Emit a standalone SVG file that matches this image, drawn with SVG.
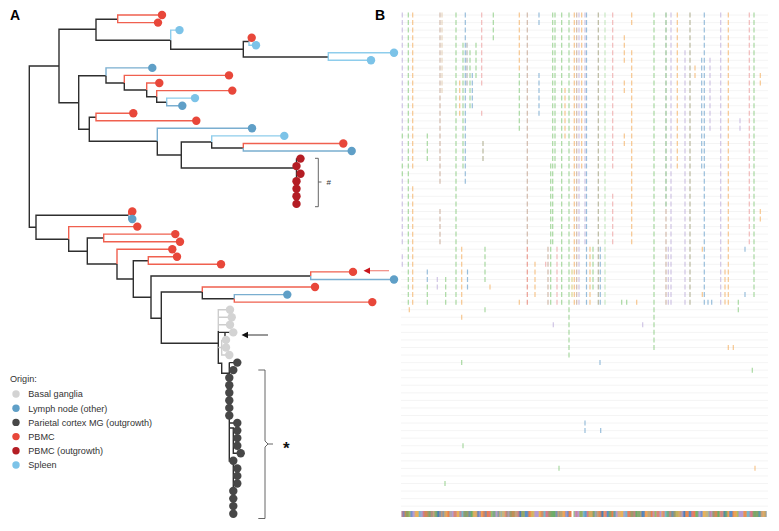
<svg xmlns="http://www.w3.org/2000/svg" width="779" height="531" viewBox="0 0 779 531">
<defs>
<style>
text{font-family:"Liberation Sans",Arial,sans-serif;fill:#333}
.k,.r,.b,.s,.g{fill:none;stroke-width:1.4}
.k{stroke:#2e2e2e}.r{stroke:#f0604f}.b{stroke:#7aaed0}.s{stroke:#8ecdec}.g{stroke:#cdcdcd}
.dr{fill:#e8473a}.db{fill:#5f9fc7}.ds{fill:#7cc3e8}.dd{fill:#b41d24}.dp{fill:#474747}.dg{fill:#d3d3d3}
.col path{fill:none;stroke-width:1.2;stroke-dasharray:5 2.556}
.lab{font-size:14px;font-weight:bold;fill:#000}
.leg{font-size:9.1px}
</style>
<pattern id="pa" patternUnits="userSpaceOnUse" x="401.5" y="511" width="41" height="6">
<rect x="0" width="3" height="6" fill="#5a8fc8"/><rect x="3" width="4" height="6" fill="#e8804f"/><rect x="7" width="2" height="6" fill="#92c06b"/><rect x="9" width="5" height="6" fill="#b59bd2"/><rect x="14" width="3" height="6" fill="#e9b25a"/><rect x="17" width="4" height="6" fill="#78b7cb"/><rect x="21" width="2" height="6" fill="#d9788a"/><rect x="23" width="5" height="6" fill="#9c9a6c"/><rect x="28" width="3" height="6" fill="#6aae6a"/><rect x="31" width="4" height="6" fill="#c89f7d"/><rect x="35" width="3" height="6" fill="#4c7fb6"/><rect x="38" width="3" height="6" fill="#f09e5a"/>
</pattern>
<pattern id="pb" patternUnits="userSpaceOnUse" x="401.5" y="511" width="29" height="6">
<rect x="0" width="2" height="6" fill="#d9788a"/><rect x="4" width="3" height="6" fill="#6aae6a"/><rect x="9" width="2" height="6" fill="#5a8fc8"/><rect x="13" width="4" height="6" fill="#e9b25a"/><rect x="19" width="2" height="6" fill="#b59bd2"/><rect x="23" width="3" height="6" fill="#e8804f"/>
</pattern>
</defs>
<rect width="779" height="531" fill="#fff"/>
<text class="lab" x="10" y="19.5">A</text>
<text class="lab" x="375" y="19.5">B</text>

<g id="connectors">
<path class="k" d="M59,66 H29.3 V227.3 H36"/>
<path class="k" d="M96,29.3 H59 V102.7 H78.7"/>
<path class="k" d="M117.7,19.3 H96 V40.3 H170.7"/>
<path class="r" d="M162,15 H117.7 V22.6 H158"/>
<path class="s" d="M179.5,30.1 H170.7 V40.3"/>
<path class="k" d="M170.7,40.3 V49.3 H243.3"/>
<path class="k" d="M249,41.5 H243.3 V57 H328.3"/>
<path class="r" d="M251.7,37.7 H249 V41.5"/>
<path class="s" d="M249,41.5 V45.2 H256"/>
<path class="s" d="M394,52.8 H328.3 V60.3 H371"/>
<path class="k" d="M106,75.7 H78.7 V129.3 H89.3"/>
<path class="b" d="M152.3,67.9 H106 V75.7"/>
<path class="k" d="M106,75.7 V83 H124.3"/>
<path class="r" d="M229,75.4 H124.3 V83"/>
<path class="k" d="M124.3,83 V90 H146.7"/>
<path class="r" d="M159.3,83 H146.7 V90"/>
<path class="k" d="M146.7,90 V96.7 H156.7"/>
<path class="r" d="M232.3,90.6 H156.7 V96.7"/>
<path class="k" d="M156.7,96.7 V102.3 H166.7"/>
<path class="s" d="M195,98.1 H166.7 V102.3"/>
<path class="b" d="M166.7,102.3 V105.7 H182.3"/>
<path class="k" d="M96,117.3 H89.3 V141.3 H157.3"/>
<path class="r" d="M133.3,113.2 H96 V120.8 H196.3"/>
<path class="b" d="M252,128.3 H157.3 V141.3"/>
<path class="k" d="M157.3,141.3 V155 H181.3"/>
<path class="k" d="M211.7,142 H181.3 V168 H296.5"/>
<path class="s" d="M284.3,135.9 H211.7 V142"/>
<path class="k" d="M211.7,142 V148 H243.3"/>
<path class="r" d="M343.3,143.5 H243.3 V148"/>
<path class="b" d="M243.3,148 V151 H351.7"/>
<path class="k" d="M296.5,158.6 V203.9 M296.5,158.6 H300.5 M296.5,173.7 H300.5"/>
<path class="k" d="M128.7,215.3 H36 V239.3 H68.7"/>
<path class="r" d="M132.3,211.5 H128.7 V215.3"/>
<path class="b" d="M128.7,215.3 V219 H132.3"/>
<path class="r" d="M137.3,226.6 H68.7 V239.3"/>
<path class="k" d="M68.7,239.3 V251.3 H87.3"/>
<path class="k" d="M103.7,238 H87.3 V264 H117"/>
<path class="r" d="M175.3,234.1 H103.7 V241.7 H180"/>
<path class="r" d="M172.3,249.2 H117 V264"/>
<path class="k" d="M117,264 V279 H133.3"/>
<path class="k" d="M148.3,260.7 H133.3 V297.3 H151"/>
<path class="r" d="M177,256.8 H148.3 V264.3 H221"/>
<path class="k" d="M310.7,276 H151 V318.3 H161.3"/>
<path class="r" d="M353,271.9 H310.7 V276"/>
<path class="b" d="M310.7,276 V279.5 H394"/>
<path class="k" d="M202.3,292 H161.3 V343.3 H218.3"/>
<path class="r" d="M315,287 H202.3 V292"/>
<path class="k" d="M202.3,292 V298.7 H234.3"/>
<path class="b" d="M287.3,294.6 H234.3 V298.7"/>
<path class="r" d="M234.3,298.7 V302.1 H372.3"/>
<path class="g" d="M230,309.7 H218.3 V331 M218.3,317.2 H231.7 M218.3,324.8 H230"/>
<path class="k" d="M218.3,331 V363.3 H221.7 V373.3 H229.3"/>
<path class="k" d="M218.3,332.4 H225 V337 M225,332.4 H233.3"/>
<path class="g" d="M221.7,339.9 H226 M221.7,339.9 V355 H229.3 M218.3,347.5 H226"/>
<path class="k" d="M229.3,362.6 H237.3 M229.3,362.6 V461 H233.3 V513.7 M229.3,423 H237.3 M229.3,428 H233.3 V453.2 H240.7"/>
<path d="M367,270.7 H389" stroke="#f28b82" stroke-width="1.2" fill="none"/>
<polygon points="363.5,270.7 370,267.5 370,273.9" fill="#c9161d"/>
<path d="M246,335 H268" stroke="#333" stroke-width="1" fill="none"/>
<polygon points="241.5,335 248,331.8 248,338.2" fill="#111"/>
<path d="M315,158.3 H318.3 V206.7 H315 M318.3,182 H321.5" stroke="#555" stroke-width="0.9" fill="none"/>
<path d="M258.3,370 H265 V441 L268,444 L265,447 V518.5 H258.3 M268,444 H273" stroke="#555" stroke-width="0.9" fill="none"/>
</g>
<text x="326.5" y="185" style="font-size:8px">#</text>
<text x="283" y="454" style="font-size:17px;font-weight:bold;fill:#111">*</text>

<g id="tips">
<circle class="dr" cx="162" cy="15" r="4.2"/><circle class="dr" cx="158" cy="22.6" r="4.2"/><circle class="ds" cx="179.5" cy="30.1" r="4.2"/><circle class="dr" cx="251.7" cy="37.7" r="4.2"/><circle class="ds" cx="256" cy="45.2" r="4.2"/><circle class="ds" cx="394" cy="52.8" r="4.2"/><circle class="ds" cx="371" cy="60.3" r="4.2"/><circle class="db" cx="152.3" cy="67.9" r="4.2"/><circle class="dr" cx="229" cy="75.4" r="4.2"/><circle class="dr" cx="159.3" cy="83" r="4.2"/><circle class="dr" cx="232.3" cy="90.6" r="4.2"/><circle class="ds" cx="195" cy="98.1" r="4.2"/><circle class="db" cx="182.3" cy="105.7" r="4.2"/><circle class="dr" cx="133.3" cy="113.2" r="4.2"/><circle class="dr" cx="196.3" cy="120.8" r="4.2"/><circle class="db" cx="252" cy="128.3" r="4.2"/><circle class="ds" cx="284.3" cy="135.9" r="4.2"/><circle class="dr" cx="343.3" cy="143.5" r="4.2"/><circle class="db" cx="351.7" cy="151" r="4.2"/>
<circle class="dd" cx="300.5" cy="158.6" r="4.2"/><circle class="dd" cx="296.5" cy="166.1" r="4.2"/><circle class="dd" cx="300.5" cy="173.7" r="4.2"/><circle class="dd" cx="296.5" cy="181.2" r="4.2"/><circle class="dd" cx="296.5" cy="188.8" r="4.2"/><circle class="dd" cx="296.5" cy="196.3" r="4.2"/><circle class="dd" cx="296.5" cy="203.9" r="4.2"/>
<circle class="dr" cx="132.3" cy="211.5" r="4.2"/><circle class="db" cx="132.3" cy="219" r="4.2"/><circle class="dr" cx="137.3" cy="226.6" r="4.2"/><circle class="dr" cx="175.3" cy="234.1" r="4.2"/><circle class="dr" cx="180" cy="241.7" r="4.2"/><circle class="dr" cx="172.3" cy="249.2" r="4.2"/><circle class="dr" cx="177" cy="256.8" r="4.2"/><circle class="dr" cx="221" cy="264.3" r="4.2"/><circle class="dr" cx="353" cy="271.9" r="4.2"/><circle class="db" cx="394" cy="279.5" r="4.2"/><circle class="dr" cx="315" cy="287" r="4.2"/><circle class="db" cx="287.3" cy="294.6" r="4.2"/><circle class="dr" cx="372.3" cy="302.1" r="4.2"/>
<circle class="dg" cx="230" cy="309.7" r="4.2"/><circle class="dg" cx="231.7" cy="317.2" r="4.2"/><circle class="dg" cx="230" cy="324.8" r="4.2"/><circle class="dg" cx="233.3" cy="332.4" r="4.2"/><circle class="dg" cx="226" cy="339.9" r="4.2"/><circle class="dg" cx="226" cy="347.5" r="4.2"/><circle class="dg" cx="229.3" cy="355" r="4.2"/>
<circle class="dp" cx="237.3" cy="362.6" r="4.2"/><circle class="dp" cx="233.3" cy="370.1" r="4.2"/><circle class="dp" cx="229.3" cy="377.7" r="4.2"/><circle class="dp" cx="229.3" cy="385.2" r="4.2"/><circle class="dp" cx="229.3" cy="392.8" r="4.2"/><circle class="dp" cx="229.3" cy="400.4" r="4.2"/><circle class="dp" cx="229.3" cy="407.9" r="4.2"/><circle class="dp" cx="229.3" cy="415.5" r="4.2"/><circle class="dp" cx="237.3" cy="423" r="4.2"/><circle class="dp" cx="237.3" cy="430.6" r="4.2"/><circle class="dp" cx="237.3" cy="438.1" r="4.2"/><circle class="dp" cx="237.3" cy="445.7" r="4.2"/><circle class="dp" cx="240.7" cy="453.2" r="4.2"/><circle class="dp" cx="233.3" cy="460.8" r="4.2"/><circle class="dp" cx="237.3" cy="468.4" r="4.2"/><circle class="dp" cx="237.3" cy="475.9" r="4.2"/><circle class="dp" cx="237.3" cy="483.5" r="4.2"/><circle class="dp" cx="233.3" cy="491" r="4.2"/><circle class="dp" cx="233.3" cy="498.6" r="4.2"/><circle class="dp" cx="233.3" cy="506.1" r="4.2"/><circle class="dp" cx="233.3" cy="513.7" r="4.2"/>
</g>

<g id="legend">
<text class="leg" x="10" y="381.5">Origin:</text>
<circle class="dg" cx="16" cy="394" r="3.7"/><text class="leg" x="28.3" y="397.3">Basal ganglia</text>
<circle class="db" cx="16" cy="408.2" r="3.7"/><text class="leg" x="28.3" y="411.5">Lymph node (other)</text>
<circle class="dp" cx="16" cy="422.4" r="3.7"/><text class="leg" x="28.3" y="425.7">Parietal cortex MG (outgrowth)</text>
<circle class="dr" cx="16" cy="436.6" r="3.7"/><text class="leg" x="28.3" y="439.9">PBMC</text>
<circle class="dd" cx="16" cy="450.8" r="3.7"/><text class="leg" x="28.3" y="454.1">PBMC (outgrowth)</text>
<circle class="ds" cx="16" cy="465" r="3.7"/><text class="leg" x="28.3" y="468.3">Spleen</text>
</g>

<g id="alignment">
<path fill="none" stroke="#f1f1f1" stroke-width="0.8" d="M401,15H768M401,22.6H768M401,30.1H768M401,37.7H768M401,45.2H768M401,52.8H768M401,60.3H768M401,67.9H768M401,75.4H768M401,83H768M401,90.6H768M401,98.1H768M401,105.7H768M401,113.2H768M401,120.8H768M401,128.3H768M401,135.9H768M401,143.5H768M401,151H768M401,158.6H768M401,166.1H768M401,173.7H768M401,181.2H768M401,188.8H768M401,196.3H768M401,203.9H768M401,211.5H768M401,219H768M401,226.6H768M401,234.1H768M401,241.7H768M401,249.2H768M401,256.8H768M401,264.3H768M401,271.9H768M401,279.5H768M401,287H768M401,294.6H768M401,302.1H768M401,309.7H768M401,317.2H768M401,324.8H768M401,332.4H768M401,339.9H768M401,347.5H768M401,355H768M401,362.6H768M401,370.1H768M401,377.7H768M401,385.2H768M401,392.8H768M401,400.4H768M401,407.9H768M401,415.5H768M401,423H768M401,430.6H768M401,438.1H768M401,445.7H768M401,453.2H768M401,460.8H768M401,468.4H768M401,475.9H768M401,483.5H768M401,491H768M401,498.6H768M401,506.1H768"/>
<g class="col" opacity="0.6">
<path stroke="#b3a0d6" d="M402.3,12.5V130.84M402.3,140.95V161.06M402.3,178.73V244.18M402.3,254.29V266.85M437.3,276.96V289.52M579,12.5V304.63M585,12.5V244.18M668.3,246.74V304.63M671,12.5V304.63M685,50.28V304.63M710,57.84V130.84M720.7,12.5V304.63M740,118.28V130.84M642.7,322.3V327.3M553.3,322.3V327.3"/>
<path stroke="#72c266" d="M402.3,133.4V138.4M402.3,163.62V176.18M408.3,12.5V304.63M427.3,133.4V161.06M427.3,284.52V304.63M445.7,276.96V304.63M456,12.5V304.63M463,42.72V168.62M470,50.28V108.17M476,42.72V77.95M485,246.74V281.96M485,307.18V312.18M493.3,12.5V40.17M519.3,72.95V130.84M550.7,163.62V304.63M552.7,12.5V244.18M555,12.5V168.62M561.7,12.5V304.63M569,12.5V357.52M593,246.74V289.52M621.7,299.63V304.63M626.7,299.63V304.63M654,12.5V349.96M738.3,299.63V312.18M754,12.5V297.07M752.3,367.63V372.63M461.7,360.08V365.08M463,443.19V448.19M445,480.97V485.97M559,465.86V470.86"/>
<path stroke="#a9dca0" d="M605,12.5V304.63"/>
<path stroke="#4f9a4f" d="M666,12.5V206.4"/>
<path stroke="#f3a347" d="M412.7,12.5V168.62M412.7,186.29V304.63M409.3,307.18V312.18M459.7,80.5V115.73M461.7,246.74V304.63M461.7,314.74V319.74M490,284.52V289.52M519.3,12.5V70.39M519.3,299.63V304.63M535,261.85V297.07M565,88.06V138.4M574.3,12.5V304.63M581.7,12.5V168.62M590,246.74V304.63M624.3,35.17V62.84M624.3,80.5V93.06M624.3,133.4V145.95M631.7,12.5V25.06M631.7,50.28V244.18M636.7,299.63V304.63M677.3,12.5V168.62M695,65.39V77.95M702.3,246.74V251.74M702.3,292.07V297.07M725,269.4V304.63M728.3,12.5V304.63M728.3,344.96V349.96M733.3,344.96V349.96M760.3,72.95V85.5M760.3,208.96V221.51M755,465.86V470.86"/>
<path stroke="#5896c6" d="M427.3,269.4V281.96M465.3,12.5V183.73M467.5,269.4V289.52M472.3,72.95V108.17M539,12.5V25.06M539,72.95V115.73M586.5,12.5V304.63M600.3,246.74V304.63M701.7,57.84V168.62M704.3,12.5V304.63M708,299.63V304.63M711.7,299.63V304.63M745,246.74V251.74M745,292.07V297.07M600,360.08V365.08M585,420.52V433.08M600.7,428.08V433.08"/>
<path stroke="#ec8f8f" d="M481.7,12.5V85.5M481.7,110.73V115.73M545.7,261.85V266.85M557,246.74V304.63M612.7,12.5V168.62M612.7,193.84V244.18M749.3,12.5V244.18"/>
<path stroke="#e0604e" d="M527.3,246.74V304.63"/>
<path stroke="#b78f77" d="M440,12.5V183.73M440,208.96V244.18M527.3,12.5V244.18M548,246.74V304.63M576.7,12.5V304.63M666,208.96V304.63"/>
<path stroke="#dcbf98" d="M442,12.5V93.06"/>
<path stroke="#8e8d62" d="M483,140.95V161.06M598.3,12.5V304.63M690,12.5V304.63"/>
<path stroke="#c8c050" d="M572,269.4V297.07"/>
<path stroke="#8a8a8a" d="M467,42.72V85.5"/>
</g>
<rect x="401.5" y="511" width="365" height="6" fill="url(#pa)"/>
<rect x="401.5" y="511" width="365" height="6" fill="url(#pb)" opacity="0.7"/>
<rect x="571.5" y="510.5" width="2" height="7" fill="#fff"/>
</g>
</svg>
